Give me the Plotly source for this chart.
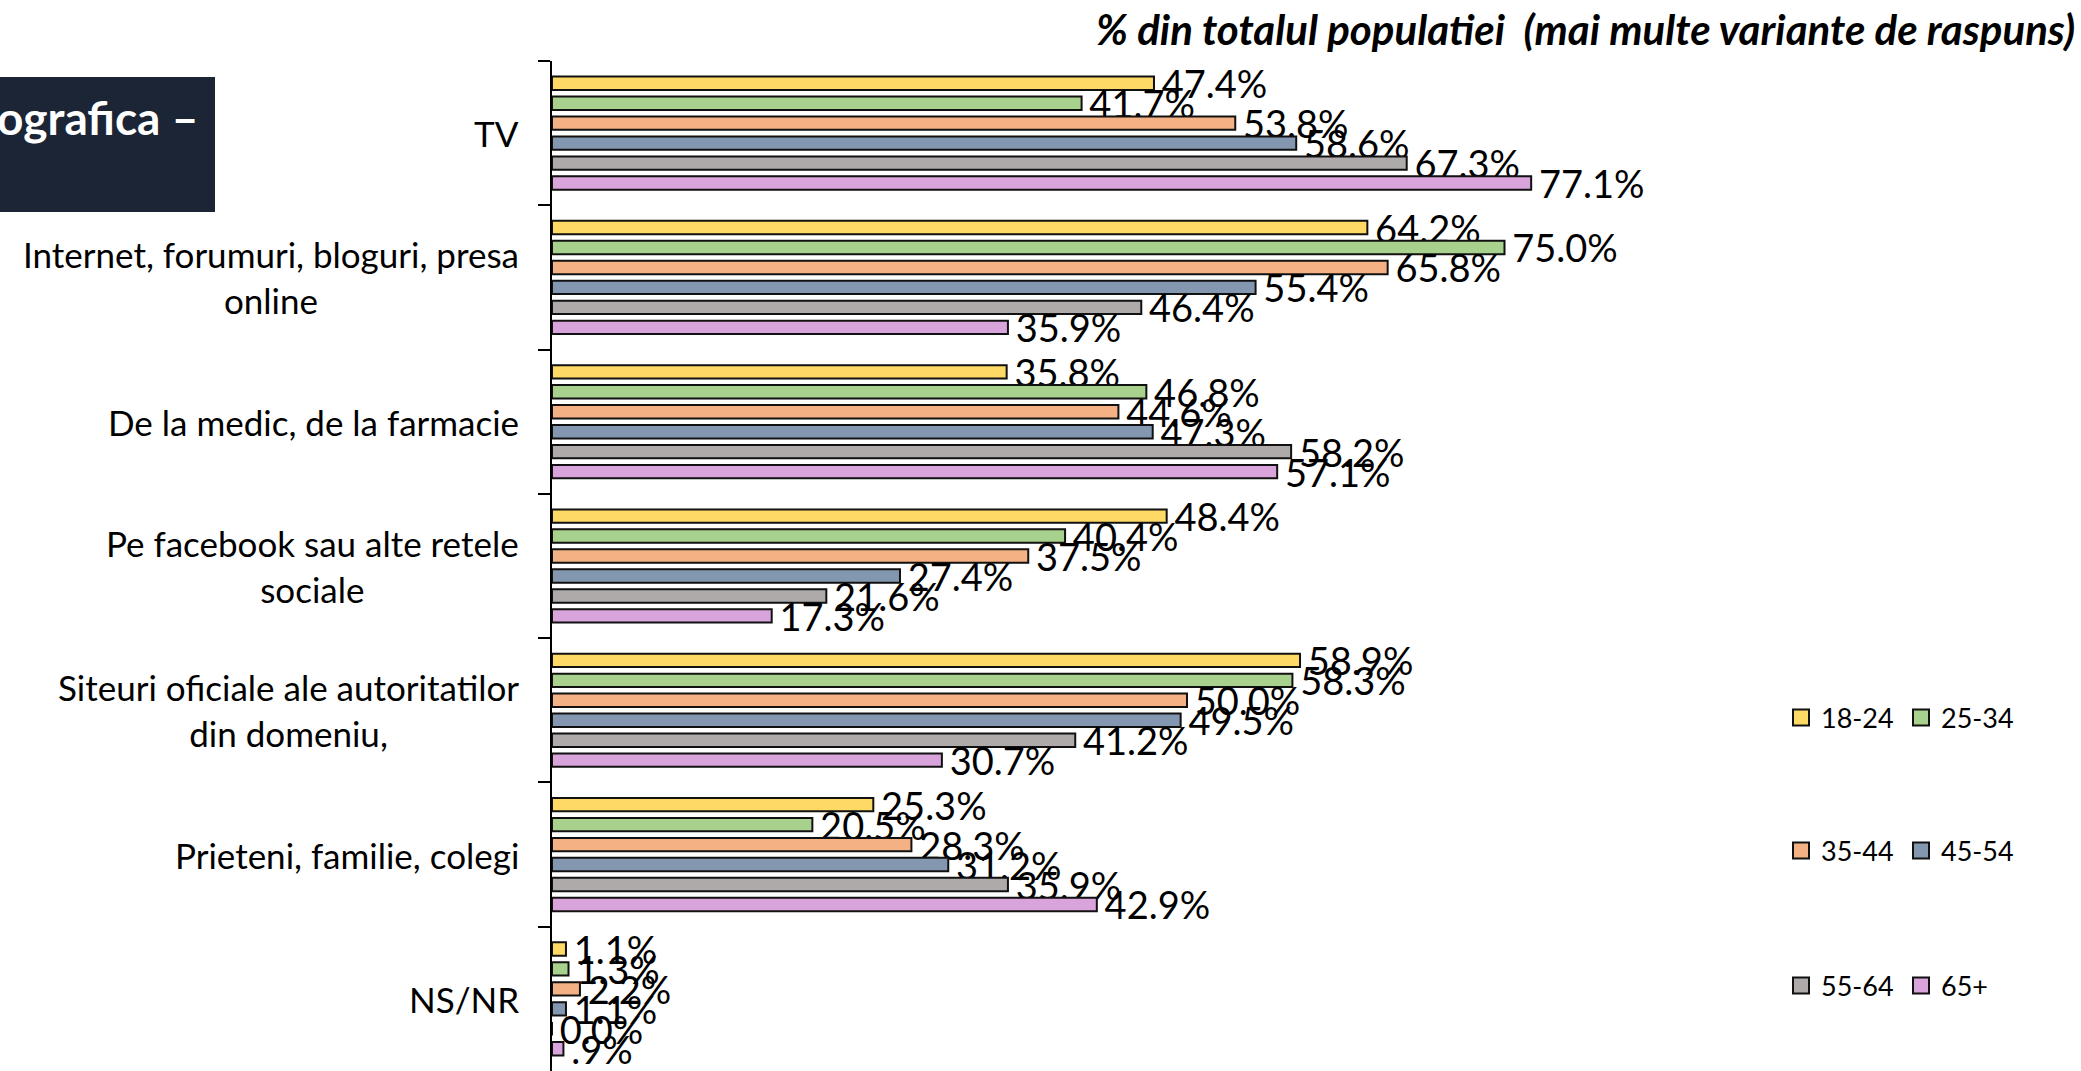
import plotly.graph_objects as go

W, H = 2081, 1071
FONT = "Lato, Carlito, Calibri, sans-serif"

# ---------------- data ----------------
categories = [
    "TV",
    "Internet, forumuri, bloguri, presa online",
    "De la medic, de la farmacie",
    "Pe facebook sau alte retele sociale",
    "Siteuri oficiale ale autoritatilor din domeniu,",
    "Prieteni, familie, colegi",
    "NS/NR",
]
category_labels = [
    "TV",
    "Internet, forumuri, bloguri, presa<br>online",
    "De la medic, de la farmacie",
    "Pe facebook sau alte retele<br>sociale",
    "Siteuri oficiale ale autoritatilor<br>din domeniu,",
    "Prieteni, familie, colegi",
    "NS/NR",
]
age_groups = ["18-24", "25-34", "35-44", "45-54", "55-64", "65+"]
v_18_24 = [47.4, 64.2, 35.8, 48.4, 58.9, 25.3, 1.1]
v_25_34 = [41.7, 75.0, 46.8, 40.4, 58.3, 20.5, 1.3]
v_35_44 = [53.8, 65.8, 44.6, 37.5, 50.0, 28.3, 2.2]
v_45_54 = [58.6, 55.4, 47.3, 27.4, 49.5, 31.2, 1.1]
v_55_64 = [67.3, 46.4, 58.2, 21.6, 41.2, 35.9, 0.0]
v_65_plus = [77.1, 35.9, 57.1, 17.3, 30.7, 42.9, 0.9]

series = [v_18_24, v_25_34, v_35_44, v_45_54, v_55_64, v_65_plus]
colors = ["#FFD966", "#A9D18E", "#F4B183", "#8497B0", "#AEAAAA", "#D9A3DB"]
legend_ids = ["legend", "legend", "legend2", "legend2", "legend3", "legend3"]

title_text = "% din totalul populatiei\u00a0\u00a0(mai multe variante de raspuns)"
box_text = "ografica \u2013"


def fmt(v):
    s = f"{v:.1f}%"
    if 0 < v < 1:
        s = s[1:]
    return "\u2009" + s


def px(x):
    return x / W


def py(y):
    return 1 - y / H


fig = go.Figure()
for name, vals, col in zip(age_groups, series, colors):
    fig.add_trace(go.Bar(
        y=categories, x=vals, name=name, orientation="h",
        marker=dict(color=col, line=dict(color="#111111", width=2)),
        text=[fmt(v) for v in vals], textposition="outside",
        textfont=dict(family=FONT, size=38, color="black"),
        constraintext="none", cliponaxis=False, showlegend=False,
    ))

# legend entries (square swatches)
for name, col, lg in zip(age_groups, colors, legend_ids):
    fig.add_trace(go.Scatter(
        x=[None], y=[None], mode="markers", name=name, legend=lg,
        marker=dict(symbol="square", size=20, color=col,
                    line=dict(color="#111111", width=2)),
        showlegend=True, hoverinfo="skip",
    ))

fig.update_layout(
    width=W, height=H,
    margin=dict(l=0, r=0, t=0, b=0),
    paper_bgcolor="white", plot_bgcolor="rgba(0,0,0,0)",
    barmode="group", bargap=0.17, bargroupgap=0.33,
    font=dict(family=FONT, color="black"),
    xaxis=dict(domain=[px(552), px(1822)], range=[0, 100], visible=False),
    yaxis=dict(
        domain=[0, py(61)], type="category",
        categoryorder="array", categoryarray=categories,
        autorange="reversed", showticklabels=False,
        ticks="outside", tickson="boundaries", ticklen=12, tickwidth=2,
        tickcolor="black", showline=True, linecolor="black", linewidth=2,
        showgrid=False, zeroline=False,
    ),
    showlegend=True,
)

leg_common = dict(orientation="h", xanchor="left", yanchor="middle",
                  font=dict(family=FONT, size=27, color="black"),
                  entrywidth=75, bgcolor="rgba(0,0,0,0)", traceorder="normal")
fig.update_layout(
    legend=dict(x=px(1781), y=py(718), **leg_common),
    legend2=dict(x=px(1781), y=py(851), **leg_common),
    legend3=dict(x=px(1781), y=py(986), **leg_common),
)

annotations = []
for cat, lab in zip(categories, category_labels):
    annotations.append(dict(
        x=px(521), xref="paper", xanchor="right",
        y=cat, yref="y", yanchor="middle",
        text=lab, align="center", showarrow=False,
        font=dict(family=FONT, size=35, color="black"),
    ))
annotations.append(dict(
    x=px(2077), xref="paper", xanchor="right",
    y=py(29), yref="paper", yanchor="middle",
    text="<b><i>" + title_text + "</i></b>", showarrow=False,
    font=dict(family=FONT, size=42, color="black"),
))
annotations.append(dict(
    x=px(200), xref="paper", xanchor="right",
    y=py(117), yref="paper", yanchor="middle",
    text="<b>" + box_text + "</b>", showarrow=False,
    font=dict(family=FONT, size=46, color="white"),
))
fig.update_layout(annotations=annotations)

fig.add_shape(type="rect", xref="paper", yref="paper",
              x0=0, x1=px(215), y0=py(212), y1=py(77),
              fillcolor="#1B2536", line=dict(width=0), layer="below")

fig.write_html("out.html", config={"displayModeBar": False},
               post_script="document.body.style.margin='0';")
